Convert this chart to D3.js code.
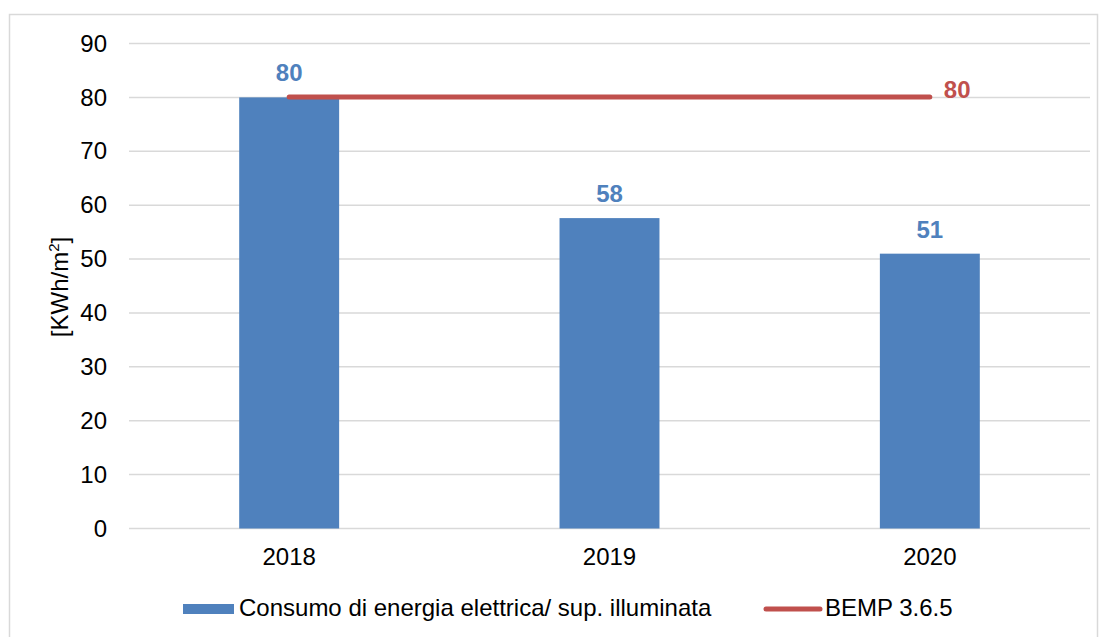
<!DOCTYPE html>
<html><head><meta charset="utf-8">
<script src="https://cdn.jsdelivr.net/npm/d3@7"></script>
<style>body{margin:0;background:#fff}svg{display:block;font-family:"Liberation Sans",Arial,sans-serif}</style>
</head><body><svg id="c" width="1107" height="637"></svg>
<script>
const categories = ["2018", "2019", "2020"];
const consumo = [80, 57.6, 51];
const consumoLabels = ["80", "58", "51"];
const bemp = [80, 80, 80];
const yTicks = [0, 10, 20, 30, 40, 50, 60, 70, 80, 90];
const seriesNames = ["Consumo di energia elettrica/ sup. illuminata", "BEMP 3.6.5"];

const svg = d3.select("#c");
const blue = "#4F81BD", red = "#C0504D";
const FS = 24;
svg.append("rect").attr("x",9.5).attr("y",14.5).attr("width",1088).attr("height",640).attr("fill","#fff").attr("stroke","#d9d9d9").attr("stroke-width",1.5);

const pLeft = 129, pRight = 1090, pTop = 43.5, pBottom = 528.5;
const x = d3.scaleBand().domain(categories).range([pLeft, pRight]).paddingInner(0.688).paddingOuter(0.344);
const y = d3.scaleLinear().domain([0, 90]).range([pBottom, pTop]);

svg.append("g").selectAll("line").data(yTicks).join("line")
  .attr("x1", pLeft).attr("x2", pRight).attr("y1", d => y(d)).attr("y2", d => y(d))
  .attr("stroke", "#d9d9d9").attr("stroke-width", 1.5);

const yAxis = d3.axisLeft(y).tickValues(yTicks).tickSize(0).tickPadding(0);
const ga = svg.append("g").attr("transform", `translate(107,0)`).call(yAxis);
ga.select(".domain").remove();
ga.selectAll("text").attr("font-size", FS).attr("fill", "#000").attr("font-family", "Liberation Sans, Arial, sans-serif");

svg.append("text").attr("transform", "translate(68,287) rotate(-90)").attr("text-anchor", "middle")
  .attr("font-size", FS).attr("fill", "#000")
  .html('[KWh/m<tspan dy="-9" font-size="15">2</tspan><tspan dy="9">]</tspan>');

svg.append("g").selectAll("rect").data(consumo).join("rect")
  .attr("x", (d,i) => x(categories[i])).attr("width", x.bandwidth())
  .attr("y", d => y(d)).attr("height", d => y(0) - y(d)).attr("fill", blue);

svg.append("g").selectAll("text").data(consumo).join("text")
  .attr("x", (d,i) => x(categories[i]) + x.bandwidth()/2).attr("y", d => y(d) - 16)
  .attr("text-anchor", "middle").attr("font-size", FS).attr("font-weight", "bold").attr("fill", blue)
  .text((d,i) => consumoLabels[i]);

const line = d3.line().x((d,i) => x(categories[i]) + x.bandwidth()/2).y(d => y(d) - 0.5);
svg.append("path").datum(bemp).attr("d", line).attr("fill", "none").attr("stroke", red)
  .attr("stroke-width", 5).attr("stroke-linecap", "round");
svg.append("text").attr("x", x(categories[2]) + x.bandwidth()/2 + 14).attr("y", y(bemp[2]) + 1)
  .attr("font-size", FS).attr("font-weight", "bold").attr("fill", red).text("80");

const xAxis = d3.axisBottom(x).tickSize(0).tickPadding(0);
const gx = svg.append("g").attr("transform", `translate(0,565)`).call(xAxis);
gx.select(".domain").remove();
gx.selectAll("text").attr("font-size", FS).attr("fill", "#000").attr("dy", 0).attr("font-family", "Liberation Sans, Arial, sans-serif");

const lg = svg.append("g");
lg.append("rect").attr("x", 183).attr("y", 604).attr("width", 51).attr("height", 10).attr("fill", blue);
lg.append("text").attr("x", 239).attr("y", 616).attr("font-size", FS).attr("fill", "#000").text(seriesNames[0]);
lg.append("line").attr("x1", 766).attr("x2", 820).attr("y1", 609).attr("y2", 609).attr("stroke", red).attr("stroke-width", 5).attr("stroke-linecap", "round");
lg.append("text").attr("x", 825).attr("y", 616).attr("font-size", FS).attr("fill", "#000").text(seriesNames[1]);
</script></body></html>
